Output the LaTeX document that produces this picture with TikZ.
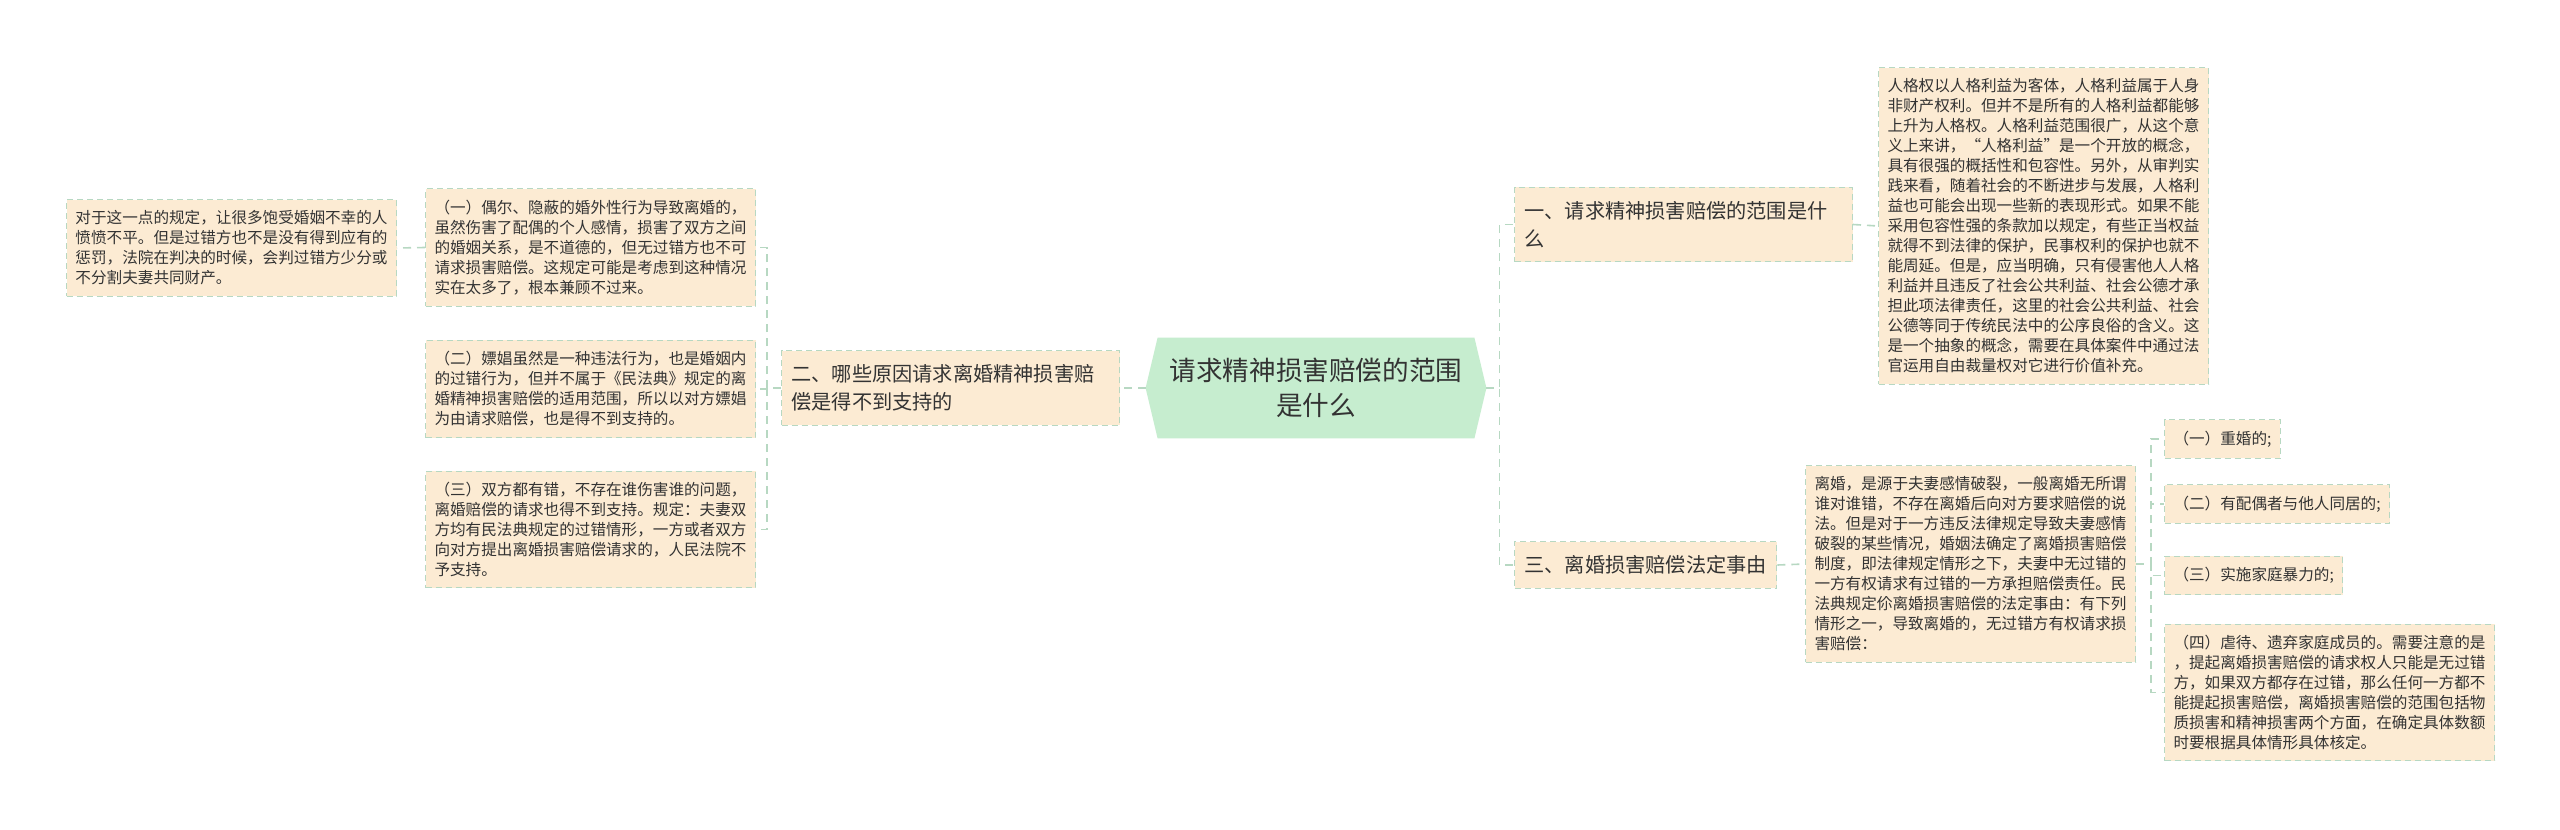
\documentclass[tikz,border=0pt]{standalone}
\usepackage{fontspec}
\setmainfont{Noto Sans CJK SC}
\usetikzlibrary{positioning,backgrounds}
\definecolor{leafBg}{HTML}{FCEBD3}
\definecolor{leafLine}{HTML}{B7D8C2}
\definecolor{rootBg}{HTML}{C6EDCF}
\definecolor{inkGrey}{HTML}{333333}
\tikzset{
  leafbox/.style={
    rectangle, draw=leafLine, fill=leafBg, line width=0.5pt,
    dash pattern=on 3pt off 2pt, inner xsep=4.5pt, inner ysep=5.5pt,
    align=left, text=inkGrey, font=\fontsize{7.8pt}{10pt}\selectfont,
  },
  branchbox/.style={
    leafbox, inner xsep=5pt, inner ysep=7pt,
    font=\fontsize{10.1pt}{14pt}\selectfont,
  },
  rootbox/.style={
    rectangle, inner sep=0pt, minimum width=170pt, minimum height=50pt,
    align=center, text=inkGrey, font=\fontsize{13.3pt}{17.5pt}\selectfont,
  },
  link/.style={
    draw=leafLine, line width=0.8pt, dash pattern=on 4pt off 3pt,
  },
}

\begin{document}
\begin{tikzpicture}[x=0.5pt, y=-0.5pt]
\useasboundingbox (0,0) rectangle (2560,830);

% centre
\node[rootbox] (root) at (1316,388) {请求精神损害赔偿的范围\\是什么};

% left side
\node[branchbox, text width=159pt, anchor=east] (whyNot) at (1120,388)
  {二、哪些原因请求离婚精神损害赔\\偿是得不到支持的};
\node[leafbox, anchor=east] (affair) at (756,247.5) {%
  （一）偶尔、隐蔽的婚外性行为导致离婚的，\\
  虽然伤害了配偶的个人感情，损害了双方之间\\
  的婚姻关系，是不道德的，但无过错方也不可\\
  请求损害赔偿。这规定可能是考虑到这种情况\\
  实在太多了，根本兼顾不过来。};
\node[leafbox, anchor=east] (affairNote) at (397,248) {%
  对于这一点的规定，让很多饱受婚姻不幸的人\\
  愤愤不平。但是过错方也不是没有得到应有的\\
  惩罚，法院在判决的时候，会判过错方少分或\\
  不分割夫妻共同财产。};
\node[leafbox, anchor=east] (prostit) at (756,389) {%
  （二）嫖娼虽然是一种违法行为，也是婚姻内\\
  的过错行为，但并不属于《民法典》规定的离\\
  婚精神损害赔偿的适用范围，所以以对方嫖娼\\
  为由请求赔偿，也是得不到支持的。};
\node[leafbox, anchor=east] (bothFault) at (756,529.5) {%
  （三）双方都有错，不存在谁伤害谁的问题，\\
  离婚赔偿的请求也得不到支持。规定：夫妻双\\
  方均有民法典规定的过错情形，一方或者双方\\
  向对方提出离婚损害赔偿请求的，人民法院不\\
  予支持。};

% right side
\node[branchbox, text width=159pt, anchor=west] (scope) at (1514,224.5)
  {一、请求精神损害赔偿的范围是什\\么};
\node[leafbox, anchor=west] (scopeText) at (1878,226) {%
  人格权以人格利益为客体，人格利益属于人身\\
  非财产权利。但并不是所有的人格利益都能够\\
  上升为人格权。人格利益范围很广，从这个意\\
  义上来讲，“人格利益”是一个开放的概念，\\
  具有很强的概括性和包容性。另外，从审判实\\
  践来看，随着社会的不断进步与发展，人格利\\
  益也可能会出现一些新的表现形式。如果不能\\
  采用包容性强的条款加以规定，有些正当权益\\
  就得不到法律的保护，民事权利的保护也就不\\
  能周延。但是，应当明确，只有侵害他人人格\\
  利益并且违反了社会公共利益、社会公德才承\\
  担此项法律责任，这里的社会公共利益、社会\\
  公德等同于传统民法中的公序良俗的含义。这\\
  是一个抽象的概念，需要在具体案件中通过法\\
  官运用自由裁量权对它进行价值补充。};
\node[branchbox, anchor=west] (grounds) at (1514,565) {三、离婚损害赔偿法定事由};
\node[leafbox, anchor=west] (groundsText) at (1805,564) {%
  离婚，是源于夫妻感情破裂，一般离婚无所谓\\
  谁对谁错，不存在离婚后向对方要求赔偿的说\\
  法。但是对于一方违反法律规定导致夫妻感情\\
  破裂的某些情况，婚姻法确定了离婚损害赔偿\\
  制度，即法律规定情形之下，夫妻中无过错的\\
  一方有权请求有过错的一方承担赔偿责任。民\\
  法典规定伱离婚损害赔偿的法定事由：有下列\\
  情形之一，导致离婚的，无过错方有权请求损\\
  害赔偿：};
\node[leafbox, anchor=west] (bigamy) at (2164,439) {（一）重婚的;};
\node[leafbox, anchor=west] (cohabit) at (2164,504) {（二）有配偶者与他人同居的;};
\node[leafbox, anchor=west] (violence) at (2164,575.5) {（三）实施家庭暴力的;};
\node[leafbox, anchor=west] (abuse) at (2164,692.5) {%
  （四）虐待、遗弃家庭成员的。需要注意的是\\
  ，提起离婚损害赔偿的请求权人只能是无过错\\
  方，如果双方都存在过错，那么任何一方都不\\
  能提起损害赔偿，离婚损害赔偿的范围包括物\\
  质损害和精神损害两个方面，在确定具体数额\\
  时要根据具体情形具体核定。};

% connectors
\draw[link] (root.west) -- (whyNot.east);
\draw[link] (whyNot.west) -- ++(-14,0) |- (affair.east);
\draw[link] (whyNot.west) -- ++(-14,0) |- (prostit.east);
\draw[link] (whyNot.west) -- ++(-14,0) |- (bothFault.east);
\draw[link] (affair.west) -- (affairNote.east);
\draw[link] (root.east) -- ++(13,0) |- (scope.west);
\draw[link] (root.east) -- ++(13,0) |- (grounds.west);
\draw[link] (scope.east) -- (scopeText.west);
\draw[link] (grounds.east) -- (groundsText.west);
\foreach \item in {bigamy,cohabit,violence,abuse}
  \draw[link] (groundsText.east) -- ++(15,0) |- (\item.west);

% background and centre shape
\begin{scope}[on background layer]
  \fill[white] (0,0) rectangle (2560,830);
  \fill[rootBg] ([xshift=6pt]root.north west) -- ([xshift=-6pt]root.north east)
    -- (root.east) -- ([xshift=-6pt]root.south east)
    -- ([xshift=6pt]root.south west) -- (root.west) -- cycle;
\end{scope}

\end{tikzpicture}
\end{document}
